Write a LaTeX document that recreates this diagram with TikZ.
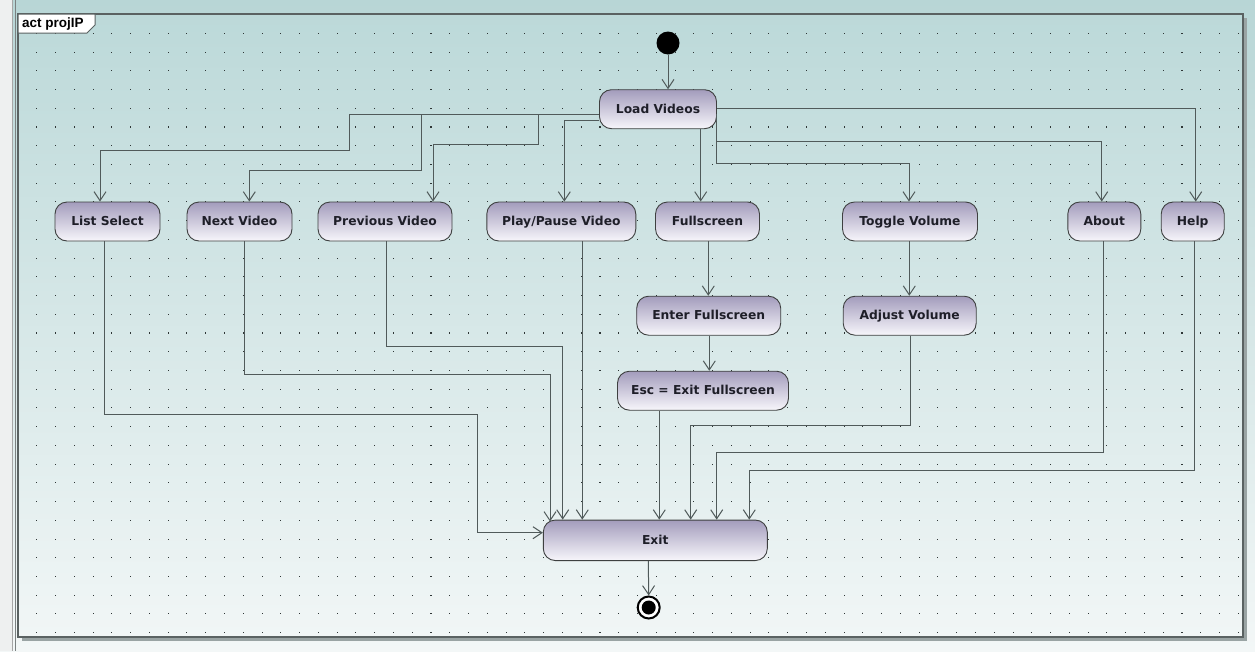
\documentclass[tikz,border=0pt]{standalone}
\usepackage{fontspec}
\setmainfont{DejaVu Sans}
\newfontfamily\lblfont{Liberation Sans}
\usetikzlibrary{arrows.meta,calc}
\definecolor{bgtop}{HTML}{B8D6D6}
\definecolor{bgbot}{HTML}{F3F7F7}
\definecolor{frametop}{HTML}{BCD9D9}
\definecolor{framebot}{HTML}{F1F6F6}
\definecolor{nodetop}{HTML}{A39CBC}
\definecolor{nodebot}{HTML}{F7F6FB}
\definecolor{nodeborder}{HTML}{3E4040}
\definecolor{nodetext}{HTML}{1E1E28}
\definecolor{linec}{HTML}{505A5A}
\definecolor{dotc}{HTML}{2E3636}
\definecolor{framec}{HTML}{5A6262}
\definecolor{shadowc}{HTML}{9AA4A4}
\definecolor{uistrip}{HTML}{EEF0F0}
\begin{document}
\begin{tikzpicture}[x=1pt,y=-1pt,
  act/.style={draw=nodeborder, line width=0.9pt, rounded corners=12pt,
    top color=nodetop, bottom color=nodebot, minimum height=39pt,
    inner sep=0pt, text height=9.6pt, text depth=2pt,
    font=\bfseries\fontsize{12.3}{14}\selectfont, text=nodetext},
  flow/.style={draw=linec, line width=1pt, -{Straight Barb[length=9pt,width=12pt,line width=1pt]}}]
% background
\useasboundingbox (0,0) rectangle (1255,651);
\fill[top color=bgtop, bottom color=bgbot] (0,0) rectangle (1255,651);
\fill[uistrip] (0,0) rectangle (12,651);
\draw[gray!70, line width=0.8pt] (12.5,0) -- (12.5,651);
\draw[framec!80, line width=1pt] (15,0) -- (15,651);
% frame
\fill[shadowc] (22,18) rectangle (1247,641);
\fill[top color=frametop, bottom color=framebot] (18,14) rectangle (1243,637);
% dot grid
\foreach \i in {0,...,64} {
  \foreach \j in {0,...,32} {
    \fill[dotc] ({36.2+18.775*\i},{32.8+18.73*\j}) rectangle ++(1.05,1.05);
  }
}
\draw[framec, line width=1.5pt] (18,14) rectangle (1243,637);
% frame label
\filldraw[fill=white, draw=framec, line width=1pt] (18,14) -- (95,14) -- (95,25) -- (87,33) -- (18,33) -- cycle;
\node[anchor=west, inner sep=0pt, font=\lblfont\bfseries\fontsize{13.5}{15}\selectfont, text=black] (lbl) at (22,24) {act projIP};

% nodes
\node[circle, fill=black, minimum size=23pt, inner sep=0pt] (start) at (668,43) {};
\node[act, minimum width=117pt] (load) at (658,109.2) {Load Videos};
\node[act, minimum width=105pt] (list) at (107.5,221.5) {List Select};
\node[act, minimum width=105pt] (next) at (239.5,221.5) {Next Video};
\node[act, minimum width=134pt] (prev) at (385,221.5) {Previous Video};
\node[act, minimum width=149pt] (play) at (561.3,221.5) {Play/Pause Video};
\node[act, minimum width=104pt] (full) at (707.5,221.5) {Fullscreen};
\node[act, minimum width=135pt] (toggle) at (910,221.5) {Toggle Volume};
\node[act, minimum width=73pt] (about) at (1104.3,221.5) {About};
\node[act, minimum width=63pt] (help) at (1192.7,221.5) {Help};
\node[act, minimum width=144pt] (enter) at (708.7,315.7) {Enter Fullscreen};
\node[act, minimum width=133pt] (adjust) at (909.7,315.7) {Adjust Volume};
\node[act, minimum width=171pt] (esc) at (703,390.7) {Esc = Exit Fullscreen};
\node[act, minimum width=224pt, minimum height=40.5pt] (exit) at (655.3,540.3) {Exit};
\node[circle, draw=black, line width=2pt, fill=white, minimum size=22pt, inner sep=0pt] (final) at (648.7,607.5) {};
\fill[black] (final.center) circle (7pt);

% connectors from start / load
\draw[flow] (start) -- (start |- load.north);
\draw[flow] ([yshift=-5pt]load.west) -| (349,150.7) -| ([xshift=-7.5pt]list.north);
\draw[flow] ([yshift=-5pt]load.west) -| (421.7,170.7) -| ([xshift=9.8pt]next.north);
\draw[flow] ([yshift=-5pt]load.west) -| (538.3,144) -| ([xshift=48pt]prev.north);
\draw[flow] ([yshift=-11.5pt]load.west) -| ([xshift=3pt]play.north);
\draw[flow] ([xshift=42.7pt]load.south) -- ([xshift=42.7pt]load.south |- full.north);
\draw[flow] ([yshift=1pt]load.east) -| ([xshift=3pt]help.north);
\draw[flow] ([yshift=-5pt]load.east) |- (1101.7,141.7) -- ([xshift=-2.6pt]about.north);
\draw[flow] ([yshift=-5pt]load.east) |- (909,163.3) -- ([xshift=-1pt]toggle.north);
% inner chains
\draw[flow] (708.3,0 |- full.south) -- (708.3,0 |- enter.north);
\draw[flow] (909.3,0 |- toggle.south) -- (909.3,0 |- adjust.north);
\draw[flow] (709.3,0 |- enter.south) -- (709.3,0 |- esc.north);
% into exit
\draw[flow] ([xshift=-2.8pt]list.south) |- (477.3,414) |- ([yshift=7.6pt]exit.west);
\draw[flow] ([xshift=5.2pt]next.south) |- (550,374) -- (550,521.5);
\draw[flow] ([xshift=1pt]prev.south) |- (562.7,346.7) -- (562.7,0 |- exit.north);
\draw[flow] (582.3,0 |- play.south) -- (582.3,0 |- exit.north);
\draw[flow] (659.3,0 |- esc.south) -- (659.3,0 |- exit.north);
\draw[flow] ([xshift=1pt]adjust.south) |- (690.7,425.7) -- (690.7,0 |- exit.north);
\draw[flow] ([xshift=-1pt]about.south) |- (716.7,452) -- (716.7,0 |- exit.north);
\draw[flow] ([xshift=1.6pt]help.south) |- (749.3,470) -- (749.3,0 |- exit.north);
\draw[flow] (648.3,0 |- exit.south) -- (final.north);
\end{tikzpicture}
\end{document}
